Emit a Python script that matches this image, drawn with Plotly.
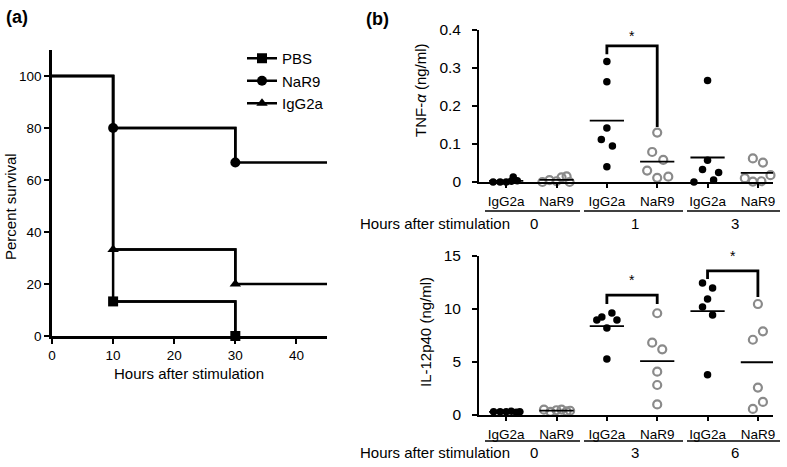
import plotly.graph_objects as go
import numpy as np

# ---------------- data ----------------
# Panel (a): Kaplan-Meier survival
surv_time_pbs = [0, 10, 30]
surv_pbs = [100, 13.3, 0]
surv_time_nar9 = [0, 10, 30, 45]
surv_nar9 = [100, 80, 66.7, 66.7]
surv_time_igg = [0, 10, 30, 45]
surv_igg = [100, 33.3, 20, 20]
survival_groups = ["PBS", "NaR9", "IgG2a"]

# Panel (b): cytokine levels
categories = ["IgG2a", "NaR9", "IgG2a", "NaR9", "IgG2a", "NaR9"]
tnf_hours = ["0", "1", "3"]
il12_hours = ["0", "3", "6"]

tnf_igg_0h = [0.0, 0.0, 0.0, 0.002, 0.013, 0.003]
tnf_nar9_0h = [0.0, 0.005, 0.002, 0.012, 0.015, 0.0]
tnf_igg_1h = [0.317, 0.264, 0.142, 0.112, 0.095, 0.040]
tnf_nar9_1h = [0.130, 0.079, 0.058, 0.030, 0.011, 0.014]
tnf_igg_3h = [0.267, 0.057, 0.033, 0.025, 0.005, 0.0]
tnf_nar9_3h = [0.062, 0.051, 0.018, 0.010, 0.001, 0.002]

il12_igg_0h = [0.3, 0.3, 0.3, 0.35, 0.25, 0.3]
il12_nar9_0h = [0.5, 0.3, 0.45, 0.5, 0.35, 0.4]
il12_igg_3h = [9.62, 9.25, 8.96, 8.96, 8.2, 5.28]
il12_nar9_3h = [9.6, 6.82, 6.2, 4.09, 2.83, 1.0]
il12_igg_6h = [12.45, 11.98, 10.94, 10.19, 9.43, 3.79]
il12_nar9_6h = [10.47, 7.89, 7.1, 2.59, 1.23, 0.57]

# ---------------- layout helpers (positions / styles) ----------------
W, H = 787, 467
FONT = "Liberation Sans, Arial, sans-serif"
GRAY = "#8a8a8a"

def px(x):
    return x / W

def py(y):
    return 1 - y / H

# horizontal scatter offsets of points within a column
jit_tnf = [
    [-0.26, -0.12, 0.0, 0.1, 0.14, 0.22],
    [-0.28, -0.14, 0.0, 0.1, 0.2, 0.26],
    [0.0, 0.0, 0.0, -0.11, 0.11, 0.0],
    [0.0, -0.1, 0.12, -0.2, 0.0, 0.22],
    [0.0, 0.0, -0.1, 0.22, 0.12, -0.27],
    [-0.1, 0.1, 0.25, -0.26, -0.1, 0.07],
]
jit_il12 = [
    [-0.25, -0.12, 0.0, 0.1, 0.2, 0.27],
    [-0.25, -0.12, 0.0, 0.1, 0.2, 0.27],
    [0.1, -0.1, -0.2, 0.2, 0.0, 0.0],
    [0.0, -0.1, 0.1, 0.0, 0.0, 0.0],
    [-0.1, 0.1, 0.0, -0.1, 0.1, 0.0],
    [0.0, 0.1, -0.1, 0.0, 0.1, -0.1],
]

fig = go.Figure()

# ---------------- panel (a) ----------------
sym = {"PBS": "square", "NaR9": "circle", "IgG2a": "triangle-up"}
msize = {"PBS": 10, "NaR9": 10, "IgG2a": 10}
for name, tx, ty in [("PBS", surv_time_pbs, surv_pbs),
                     ("NaR9", surv_time_nar9, surv_nar9),
                     ("IgG2a", surv_time_igg, surv_igg)]:
    fig.add_trace(go.Scatter(x=tx, y=ty, mode="lines", line=dict(color="black", width=2.5, shape="hv"),
                             showlegend=False, xaxis="x", yaxis="y", cliponaxis=False, hoverinfo="skip"))
    ev_x = [t for t in tx[1:] if t != 45]
    ev_y = [ty[tx.index(t)] for t in ev_x]
    fig.add_trace(go.Scatter(x=ev_x, y=ev_y, mode="lines+markers", name=name,
                             line=dict(color="black", width=2.5, shape="hv"),
                             marker=dict(symbol=sym[name], size=msize[name], color="black"),
                             xaxis="x", yaxis="y", cliponaxis=False))

# ---------------- panel (b) ----------------
tnf_groups = [tnf_igg_0h, tnf_nar9_0h, tnf_igg_1h, tnf_nar9_1h, tnf_igg_3h, tnf_nar9_3h]
il12_groups = [il12_igg_0h, il12_nar9_0h, il12_igg_3h, il12_nar9_3h, il12_igg_6h, il12_nar9_6h]

def add_dots(groups, jits, xa, ya):
    for i, (vals, jit) in enumerate(zip(groups, jits)):
        xs = [i + j for j in jit]
        if i % 2 == 0:
            mk = dict(symbol="circle", size=7.5, color="black")
        else:
            mk = dict(symbol="circle-open", size=8, color=GRAY, line=dict(width=2.2, color=GRAY))
        fig.add_trace(go.Scatter(x=xs, y=vals, mode="markers", marker=mk, showlegend=False,
                                 xaxis=xa, yaxis=ya, cliponaxis=False))
        m = float(np.mean(vals))
        fig.add_trace(go.Scatter(x=[i - 0.34, i + 0.34], y=[m, m], mode="lines",
                                 line=dict(color="black", width=1.8), showlegend=False,
                                 xaxis=xa, yaxis=ya, cliponaxis=False))

add_dots(tnf_groups, jit_tnf, "x2", "y2")
add_dots(il12_groups, jit_il12, "x3", "y3")

shapes = []
annotations = []

def bracket(xa, ya, x0, x1, ytop, yl, yr, ystar):
    shapes.append(dict(type="path", xref=xa, yref=ya,
                       path=f"M {x0},{yl} L {x0},{ytop} L {x1},{ytop} L {x1},{yr}",
                       line=dict(color="black", width=2.8)))
    annotations.append(dict(x=(x0 + x1) / 2, y=ystar, xref=xa, yref=ya, text="*", showarrow=False,
                            font=dict(size=14, color="black", family=FONT)))

bracket("x2", "y2", 2, 3, 0.358, 0.336, 0.145, 0.385)
bracket("x3", "y3", 2, 3, 11.3, 10.47, 10.47, 12.7)
bracket("x3", "y3", 4, 5, 13.6, 12.83, 11.13, 15.0)

def text(x, y, s, size=15, anchor="center", angle=0):
    annotations.append(dict(x=px(x), y=py(y), xref="paper", yref="paper", xanchor=anchor,
                            yanchor="middle", text=s, showarrow=False, textangle=angle,
                            font=dict(size=size, family=FONT, color="black")))

# hour group underlines & labels
for (ylab_line, ylab_txt, hours) in [(211, 223, tnf_hours), (441, 452, il12_hours)]:
    segs = [(485, 580), (584, 683), (687, 780)]
    for (a, b), h in zip(segs, hours):
        shapes.append(dict(type="line", xref="paper", yref="paper", x0=px(a), x1=px(b),
                           y0=py(ylab_line), y1=py(ylab_line), line=dict(color="black", width=1.3)))
        text((a + b) / 2 + 1, ylab_txt, h)
    text(358, ylab_txt, "Hours after stimulation", anchor="left")

# axis titles
text(10, 207, "Percent survival", angle=-90)
text(189, 373, "Hours after stimulation")
text(420, 90, "TNF-<i>α</i> (ng/ml)", angle=-90)
text(425, 332, "IL-12p40 (ng/ml)", angle=-90)

# panel labels
text(4, 17, "<b>(a)</b>", size=18, anchor="left")
text(364, 19, "<b>(b)</b>", size=18, anchor="left")

axis_common = dict(showline=True, linecolor="black", ticks="outside", tickcolor="black",
                   showgrid=False, zeroline=False, automargin=False)

def tf(size):
    return dict(size=size, family=FONT, color="black")

fig.update_layout(
    width=W, height=H, margin=dict(l=0, r=0, t=0, b=0, autoexpand=False),
    paper_bgcolor="white", plot_bgcolor="white",
    font=dict(family=FONT, color="black"),
    showlegend=True,
    legend=dict(x=px(242), y=py(42), xanchor="left", yanchor="top", bgcolor="rgba(0,0,0,0)",
                font=dict(size=15, family=FONT), tracegroupgap=0, itemsizing="trace"),
    xaxis=dict(domain=[px(52), px(327)], range=[0, 45], anchor="y", tickvals=[0, 10, 20, 30, 40],
               linewidth=2.5, tickwidth=2, ticklen=5, tickfont=tf(13.5), **axis_common),
    yaxis=dict(domain=[py(336), py(50)], range=[0, 110], anchor="x", tickvals=[0, 20, 40, 60, 80, 100],
               linewidth=2.5, tickwidth=2, ticklen=5, tickfont=tf(13.5), **axis_common),
    xaxis2=dict(domain=[px(479), px(773)], range=[-0.54, 5.30], anchor="y2",
                tickvals=list(range(6)), ticktext=categories, linewidth=1.8, tickwidth=1.5, ticklen=4,
                ticklabelstandoff=2, tickfont=tf(13.5), **axis_common),
    yaxis2=dict(domain=[py(182), py(30)], range=[0, 0.4], anchor="x2", tickvals=[0, 0.1, 0.2, 0.3, 0.4],
                ticktext=["0", "0.1", "0.2", "0.3", "0.4"], linewidth=1.8, tickwidth=1.5, ticklen=5,
                ticklabelstandoff=8, tickfont=tf(15.5), **axis_common),
    xaxis3=dict(domain=[px(479), px(773)], range=[-0.54, 5.30], anchor="y3",
                tickvals=list(range(6)), ticktext=categories, linewidth=1.8, tickwidth=1.5, ticklen=4,
                ticklabelstandoff=2, tickfont=tf(13.5), **axis_common),
    yaxis3=dict(domain=[py(415), py(256)], range=[0, 15], anchor="x3", tickvals=[0, 5, 10, 15],
                linewidth=1.8, tickwidth=1.5, ticklen=5, ticklabelstandoff=8, tickfont=tf(15.5),
                **axis_common),
    shapes=shapes, annotations=annotations,
)

fig.write_html("out.html", config={"displayModeBar": False},
               post_script="document.body.style.margin='0';")
